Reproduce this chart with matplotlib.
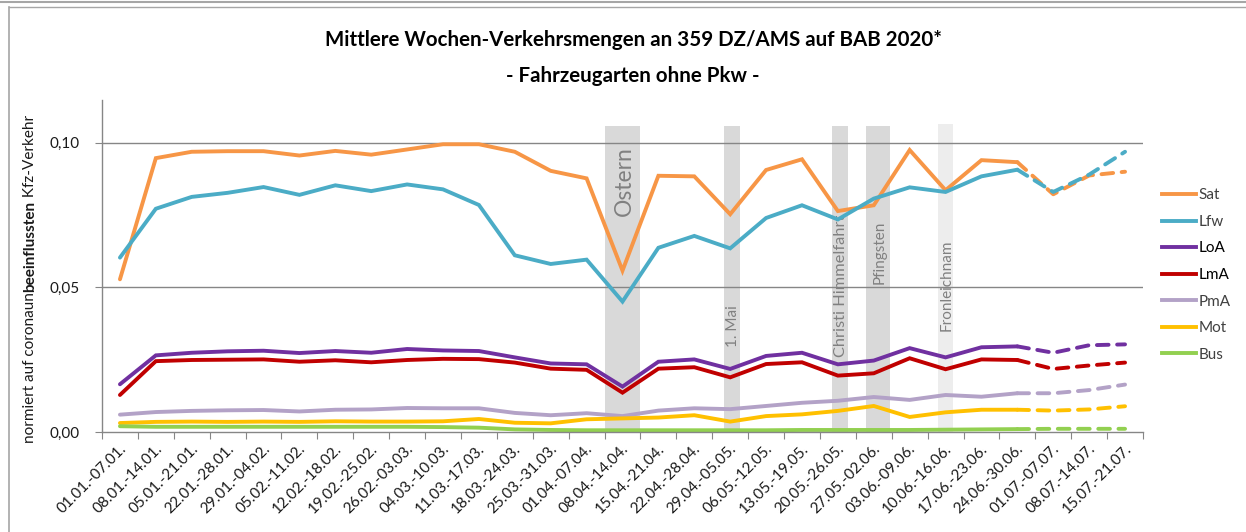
import numpy as np
import matplotlib
matplotlib.use("Agg")
import matplotlib.pyplot as plt
import matplotlib.transforms as mtransforms
from matplotlib.lines import Line2D

plt.rcParams["font.family"] = ["Lato", "DejaVu Sans"]

weeks = ["01.01.-07.01.", "08.01.-14.01.", "05.01.-21.01.", "22.01.-28.01.",
         "29.01.-04.02.", "05.02.-11.02.", "12.02.-18.02.", "19.02.-25.02.",
         "26.02.-03.03.", "04.03.-10.03.", "11.03.-17.03.", "18.03.-24.03.",
         "25.03.-31.03.", "01.04.-07.04.", "08.04.-14.04.", "15.04.-21.04.",
         "22.04.-28.04.", "29.04.-05.05.", "06.05.-12.05.", "13.05.-19.05.",
         "20.05.-26.05.", "27.05.-02.06.", "03.06.-09.06.", "10.06.-16.06.",
         "17.06.-23.06.", "24.06.-30.06.", "01.07.-07.07.", "08.07.-14.07.",
         "15.07.-21.07."]

sat = [0.0528, 0.0947, 0.0969, 0.0971, 0.0971, 0.0956, 0.0972, 0.0959, 0.0977, 0.0995,
       0.0995, 0.0969, 0.0903, 0.0877, 0.0558, 0.0886, 0.0884, 0.0753, 0.0906, 0.0943,
       0.0764, 0.0784, 0.0975, 0.0836, 0.0940, 0.0933, 0.0822, 0.0887, 0.0900]
lfw = [0.0603, 0.0772, 0.0813, 0.0827, 0.0847, 0.0820, 0.0853, 0.0833, 0.0856, 0.0839,
       0.0785, 0.0611, 0.0581, 0.0596, 0.0451, 0.0637, 0.0678, 0.0635, 0.0740, 0.0784,
       0.0735, 0.0807, 0.0846, 0.0830, 0.0884, 0.0907, 0.0830, 0.0890, 0.0969]
loa = [0.0165, 0.0265, 0.0274, 0.0279, 0.0281, 0.0273, 0.0280, 0.0274, 0.0287, 0.0282,
       0.0280, 0.0258, 0.0237, 0.0234, 0.0157, 0.0243, 0.0251, 0.0218, 0.0263, 0.0274,
       0.0234, 0.0247, 0.0290, 0.0258, 0.0293, 0.0296, 0.0274, 0.0300, 0.0303]
lma = [0.0128, 0.0245, 0.0249, 0.0250, 0.0251, 0.0243, 0.0248, 0.0241, 0.0249, 0.0253,
       0.0252, 0.0240, 0.0219, 0.0215, 0.0136, 0.0219, 0.0224, 0.0189, 0.0235, 0.0241,
       0.0195, 0.0203, 0.0255, 0.0217, 0.0251, 0.0249, 0.0218, 0.0230, 0.0240]
pma = [0.0060, 0.0069, 0.0073, 0.0075, 0.0076, 0.0071, 0.0077, 0.0078, 0.0083, 0.0082,
       0.0082, 0.0066, 0.0058, 0.0065, 0.0055, 0.0074, 0.0082, 0.0079, 0.0090, 0.0101,
       0.0108, 0.0121, 0.0111, 0.0128, 0.0122, 0.0134, 0.0134, 0.0145, 0.0164]
mot = [0.0031, 0.0035, 0.0036, 0.0035, 0.0036, 0.0035, 0.0037, 0.0036, 0.0036, 0.0037,
       0.0045, 0.0032, 0.0030, 0.0044, 0.0047, 0.0050, 0.0058, 0.0036, 0.0055, 0.0061,
       0.0073, 0.0090, 0.0052, 0.0068, 0.0077, 0.0077, 0.0074, 0.0078, 0.0089]
bus = [0.0020, 0.0018, 0.0018, 0.0018, 0.0018, 0.0018, 0.0018, 0.0018, 0.0018, 0.0017,
       0.0015, 0.0009, 0.0007, 0.0006, 0.0006, 0.0006, 0.0006, 0.0006, 0.0006, 0.0007,
       0.0007, 0.0007, 0.0007, 0.0008, 0.0009, 0.0010, 0.0011, 0.0011, 0.0011]

series_names = ["Sat", "Lfw", "LoA", "LmA", "PmA", "Mot", "Bus"]
series_vals = [sat, lfw, loa, lma, pma, mot, bus]
series_colors = ["#F79646", "#4BACC6", "#7030A0", "#C00000", "#B3A2C7", "#FFC000", "#92D050"]
last_solid = "24.06.-30.06."   # ab hier Prognose (gestrichelt)

# Feiertage: Name, Woche (Kategorie), Versatz in der Woche
holidays = ["Ostern", "1. Mai", "Christi Himmelfahrt", "Pfingsten", "Fronleichnam"]
holiday_week = ["08.04.-14.04.", "29.04.-05.05.", "20.05.-26.05.", "27.05.-02.06.", "10.06.-16.06."]
holiday_shift = [0.0, 0.05, 0.05, 0.12, 0.0]

W, H = 1246, 532
fig = plt.figure(figsize=(W / 100, H / 100), dpi=100)
ax = fig.add_axes([102 / W, 1 - 432 / H, (1143 - 102) / W, (432 - 100) / H])

x = np.arange(len(weeks))
ax.set_xlim(-0.5, len(weeks) - 0.5)
ax.set_ylim(0, 0.1148)

# ----- Feiertagsbalken -----
band_w = [1.0, 0.45, 0.45, 0.65, 0.44]
band_c = ["#D9D9D9", "#D9D9D9", "#D9D9D9", "#D9D9D9", "#EDEDED"]
band_top = [0.1059, 0.1059, 0.1059, 0.1059, 0.1064]
label_y = [0.0746, 0.0294, 0.0259, 0.0511, 0.0348]   # bottom of rotated label
label_fs = [16.5, 11, 11.8, 11, 11]
for k, name in enumerate(holidays):
    xc = weeks.index(holiday_week[k]) + holiday_shift[k]
    ax.bar(xc, band_top[k], width=band_w[k], color=band_c[k], zorder=0)
    ax.text(xc + 0.04, label_y[k], name, rotation=90, ha="center", va="bottom",
            fontsize=label_fs[k], color="#808080", zorder=1)

# ----- Gitter -----
ax.set_yticks([0, 0.05, 0.10])
ax.set_yticklabels(["0,00", "0,05", "0,10"])
for yv in [0.05, 0.10]:
    ax.axhline(yv, color="#868686", lw=1.0, zorder=0.5)

# ----- Linien -----
cut = weeks.index(last_solid)
for name, vals, col in zip(series_names, series_vals, series_colors):
    ax.plot(x[:cut + 1], vals[:cut + 1], color=col, lw=2.8, solid_capstyle="round",
            solid_joinstyle="miter", zorder=2, label=name)
    ax.plot(x[cut:], vals[cut:], color=col, lw=2.8, ls=(0, (3, 2.2)),
            dash_capstyle="round", zorder=2)

# ----- Achsen -----
for s in ["top", "right"]:
    ax.spines[s].set_visible(False)
for s in ["left", "bottom"]:
    ax.spines[s].set_color("#868686")
    ax.spines[s].set_linewidth(1.0)

ax.set_xticks(np.arange(-0.5, len(weeks)), minor=False)
ax.set_xticklabels([])
ax.set_xticks(x, minor=True)
ax.set_xticklabels(weeks, minor=True, rotation=45, ha="right", va="center",
                   rotation_mode="anchor", fontsize=11, color="#1a1a1a")
ax.tick_params(axis="x", which="major", length=5, color="#868686", direction="out")
ax.tick_params(axis="x", which="minor", length=0, pad=10.5)
ax.tick_params(axis="y", length=5, color="#868686", direction="out", pad=11,
               labelsize=11, labelcolor="#1a1a1a")
shift = mtransforms.ScaledTranslation(4 / 100, 0, fig.dpi_scale_trans)
for lbl in ax.get_xticklabels(minor=True):
    lbl.set_transform(lbl.get_transform() + shift)

# ----- y-Beschriftung (teils fett) -----
t1 = fig.text(30 / W, 1 - 443 / H, "normiert auf coronaun", rotation=90,
              ha="center", va="bottom", fontsize=11, color="#1a1a1a")
t2 = ax.annotate("beeinflussten", xy=(0.5, 1), xycoords=t1, rotation=90,
                 ha="center", va="bottom", fontsize=11, fontweight="bold",
                 color="#1a1a1a", annotation_clip=False)
ax.annotate(" Kfz-Verkehr", xy=(0.5, 1), xycoords=t2, rotation=90,
            ha="center", va="bottom", fontsize=11, color="#1a1a1a",
            annotation_clip=False)

# ----- Titel -----
fig.text(633 / W, 1 - 40 / H, "Mittlere Wochen-Verkehrsmengen an 359 DZ/AMS auf BAB 2020*",
         ha="center", va="center", fontsize=14.8, fontweight="bold", color="#000000")
fig.text(633 / W, 1 - 76 / H, "- Fahrzeugarten ohne Pkw -",
         ha="center", va="center", fontsize=14.8, fontweight="bold", color="#000000")

# ----- Legende -----
handles = [Line2D([], [], color=c, lw=2.8) for c in series_colors]
leg = fig.legend(handles, series_names, loc="center left",
                 bbox_to_anchor=(1156 / W, 1 - 275 / H), frameon=False,
                 fontsize=11, handlelength=2.2, handletextpad=0.2, labelspacing=0.82,
                 borderaxespad=0)
for t, n in zip(leg.get_texts(), series_names):
    t.set_color("#000000" if n in ("LoA", "LmA") else "#404040")

# ----- Rahmen -----
fig.add_artist(Line2D([9 / W, 9 / W], [0, 1 - 7 / H], color="#A6A6A6", lw=1.2))
fig.add_artist(Line2D([9 / W, 1], [1 - 7 / H, 1 - 7 / H], color="#A6A6A6", lw=1.0))
fig.add_artist(Line2D([0, 1], [1 - 1.5 / H, 1 - 1.5 / H], color="#A6A6A6", lw=1.5))

fig.savefig("out.png", dpi=100)
